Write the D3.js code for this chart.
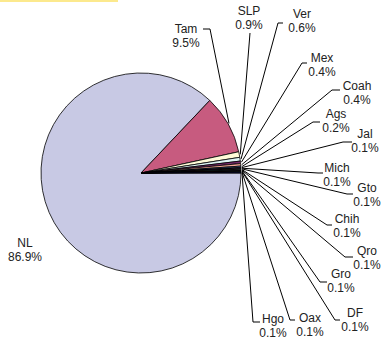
<!DOCTYPE html>
<html><head><meta charset="utf-8">
<script src="https://cdn.jsdelivr.net/npm/d3@7"></script>
<style>body{margin:0;background:#fff}svg{display:block}text{font-family:"Liberation Sans",Arial,sans-serif;font-size:12px;fill:#222}</style>
</head><body>
<script>
const states = ["NL","Tam","SLP","Ver","Mex","Coah","Ags","Jal","Mich","Gto","Chih","Qro","Gro","DF","Oax","Hgo"];
const shares = [86.9,9.5,0.9,0.6,0.4,0.4,0.2,0.1,0.1,0.1,0.1,0.1,0.1,0.1,0.1,0.1];
const pctLabels = ["86.9%","9.5%","0.9%","0.6%","0.4%","0.4%","0.2%","0.1%","0.1%","0.1%","0.1%","0.1%","0.1%","0.1%","0.1%","0.1%"];
const colors = ["#c8c9e4","#c75b7f","#fffbd8","#def4f4","#7a2a6e","#f6a898","#4f7fc4","#d8d8f2","#1c2470","#e060e0","#e8e070","#70e0e0","#6a206a","#6a2020","#1f7070","#2020d0"];
// label layout: [text centre x, first baseline y, leader end x, leader end y, tick end x, tick end y]
const labelLayout = [
  [25,247,null,null,null,null],
  [186,33,210,29,203,29],
  [249,15,250,33,250,33],
  [302,18,278,23,283,23],
  [322,62,302,63,307,63],
  [357,90,332,90,340,90],
  [336,118,313,122,320,122],
  [365,138,343,142,352,142],
  [337,172,318,173,323,173],
  [367,192,347,194,353,194],
  [347,223,327,225,332,225],
  [367,255,345,257,353,257],
  [341,278,320,282,327,282],
  [355,317,335,320,340,320],
  [310,322,290,320,295,320],
  [273,323,253,322,260,322]
];

const W=383,H=341, cx=141, cy=173, R=100;
const svg=d3.select("body").append("svg").attr("width",W).attr("height",H);
svg.append("rect").attr("x",0).attr("y",0).attr("width",118).attr("height",2).attr("fill","#fce98d");

const data = states.map((s,i)=>({name:s,value:shares[i],pct:pctLabels[i],color:colors[i],lay:labelLayout[i]}));
const pie=d3.pie().sort(null).value(d=>d.value).startAngle(Math.PI/2).endAngle(Math.PI/2+2*Math.PI);
const arcs=pie(data);
const arc=d3.arc().innerRadius(0).outerRadius(R);
const g=svg.append("g").attr("transform",`translate(${cx},${cy})`);
g.selectAll("path").data(arcs).join("path").attr("d",arc).attr("fill",d=>d.data.color)
  .attr("stroke","#000").attr("stroke-width",0.8).attr("stroke-linejoin","round");

// leaders
arcs.forEach((a,i)=>{
  const L=a.data.lay;
  if(L[2]===null) return;
  const m=(a.startAngle+a.endAngle)/2;
  const x0=cx+Math.sin(m)*(R+1), y0=cy-Math.cos(m)*(R+1);
  svg.append("polyline").attr("points",`${x0},${y0} ${L[2]},${L[3]} ${L[4]},${L[5]}`)
    .attr("fill","none").attr("stroke","#000").attr("stroke-width",1);
});
// labels
arcs.forEach(a=>{
  const L=a.data.lay;
  const t=svg.append("text").attr("text-anchor","middle");
  t.append("tspan").attr("x",L[0]).attr("y",L[1]).text(a.data.name);
  t.append("tspan").attr("x",L[0]).attr("y",L[1]+14).text(a.data.pct);
});
</script>
</body></html>
